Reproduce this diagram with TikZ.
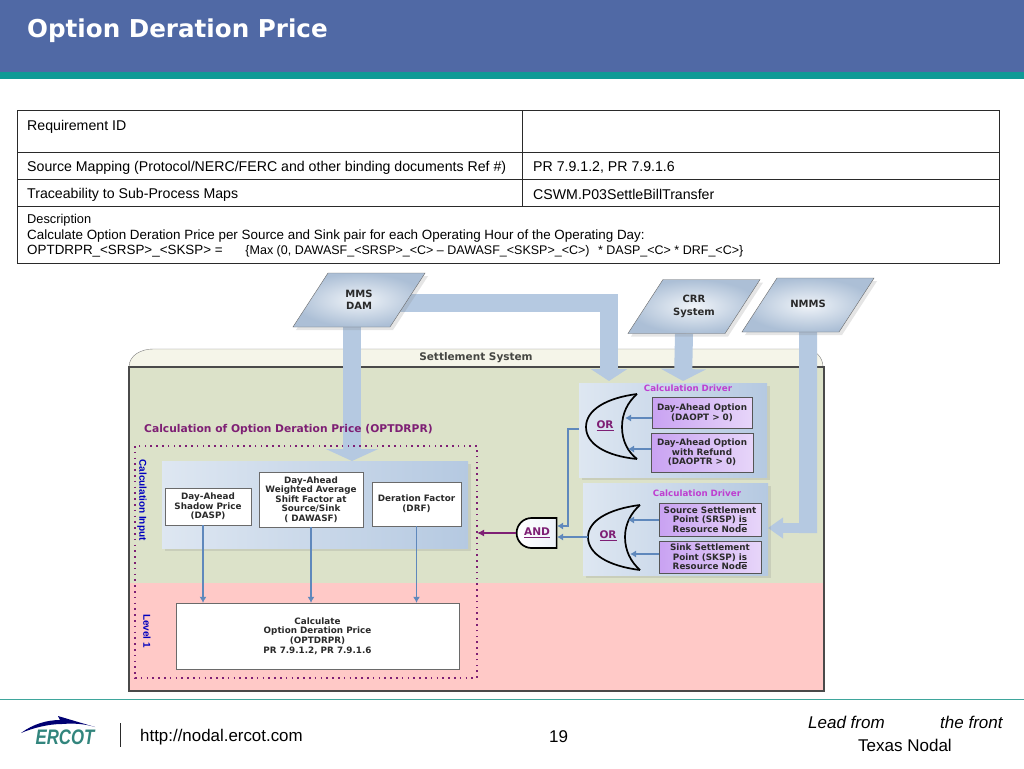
\documentclass[tikz,border=0pt]{standalone}
\usepackage{fontspec}
\setmainfont{Liberation Sans}
\newfontfamily\diafont{DejaVu Sans}
\usetikzlibrary{arrows.meta,positioning,shapes.geometric,shapes.misc,shadows}
\pgfdeclarelayer{back}
\pgfdeclarelayer{pipes}
\pgfsetlayers{back,pipes,main}
\definecolor{head}{HTML}{5069A5}
\definecolor{strip}{HTML}{0F9A96}
\definecolor{rulet}{HTML}{3FA69C}
\definecolor{flow}{HTML}{B5C9E1}
\definecolor{wire}{HTML}{5F88BC}
\definecolor{plum}{HTML}{7E1F74}
\definecolor{magen}{HTML}{BE3FD0}
\definecolor{viol}{HTML}{C9A2F2}
\definecolor{sysgreen}{HTML}{DCE2C9}
\definecolor{syspink}{HTML}{FFC9C7}
\definecolor{tabc}{HTML}{F5F5E9}
\definecolor{ink}{HTML}{2A2A2A}
\tikzset{cell/.style={anchor=west,inner sep=0pt,align=left,font=\fontsize{14.15}{14.6}\selectfont},
src/.style={trapezium,trapezium left angle=57,trapezium right angle=123,trapezium stretches body,draw=ink!70,inner sep=0pt,text width=62pt,text height=27pt,text depth=27pt,inner color=flow!20,outer color=flow!95!black,drop shadow={shadow xshift=3pt,shadow yshift=-3pt,opacity=.2}},
srclbl/.style={inner sep=0pt,align=center,text=ink,font=\diafont\bfseries\fontsize{10}{12.5}\selectfont},
panel/.style={anchor=north west,inner sep=0pt,left color=flow!45,right color=flow,drop shadow={shadow xshift=3pt,shadow yshift=-3pt,opacity=.2}},
inbox/.style={draw=ink!70,fill=white,inner sep=0pt,align=center,text=ink,font=\diafont\bfseries\fontsize{8.8}{9.6}\selectfont},
drvbox/.style={draw=ink!80,thick,inner sep=0pt,align=center,text=ink,left color=viol,right color=viol!45,font=\diafont\bfseries\fontsize{8.8}{9.6}\selectfont},
bigarr/.style={draw=flow,line width=18pt},
arr/.style={draw=wire,line width=1.1pt,-{Latex[length=6pt,width=7pt]}},
gate/.style={draw=black,line width=1.7pt},
gatelbl/.style={inner sep=0pt,text=plum,font=\diafont\bfseries\fontsize{10.5}{11}\selectfont},
drvlbl/.style={inner sep=0pt,text=magen,font=\diafont\bfseries\fontsize{8.7}{9}\selectfont},
vlbl/.style={rotate=-90,inner sep=0pt,text=blue!75!black,font=\bfseries\fontsize{10}{10}\selectfont}}
\begin{document}
\begin{tikzpicture}[x=1pt,y=-1pt]
\useasboundingbox (0,0) rectangle (1024,768);
\fill[head] (0,0) rectangle (1024,72);
\fill[strip] (0,72) rectangle (1024,79);
\node[anchor=west,inner sep=0pt,text=white,font=\diafont\bfseries\fontsize{24.6}{26}\selectfont] (title) at (27,31) {Option Deration Price};
% table
\draw[ink,line width=1pt] (17,110) rectangle (999,263);
\draw[ink,line width=1pt] (17,152)--(999,152) (17,179)--(999,179) (17,206)--(999,206) (522,110)--(522,206);
\node[cell] (t1) at (27,127) {Requirement ID};
\node[cell] (t2) at (27,168) {Source Mapping (Protocol/NERC/FERC and other binding documents Ref \#)};
\node[cell] (t3) at (533,167.5) {PR 7.9.1.2, PR 7.9.1.6};
\node[cell] (t4) at (27,195) {Traceability to Sub-Process Maps};
\node[cell] (t5) at (533,194.5) {CSWM.P03SettleBillTransfer};
\node[cell,font=\fontsize{12.8}{15.4}\selectfont] (t6) at (27,236) {Description\\\fontsize{13.4}{15.4}\selectfont Calculate Option Deration Price per Source and Sink pair for each Operating Hour of the Operating Day:\\\fontsize{13.4}{15.4}\selectfont OPTDRPR\_<SRSP>\_<SKSP> =\hspace{1.7em}\fontsize{12.5}{15.4}\selectfont\{Max (0, DAWASF\_<SRSP>\_<C> -- DAWASF\_<SKSP>\_<C>)\hspace{.4em} * DASP\_<C> * DRF\_<C>\}};
% settlement system
\begin{pgfonlayer}{back}
\fill[white] (0,0) rectangle (1024,768);
\draw[ink!60,fill=tabc] (129,367) to[out=90,in=180] (153,349)--(805,349) to[out=0,in=90] (823,367)--cycle;
\fill[sysgreen] (129,367) rectangle (824,583);
\fill[syspink] (129,583) rectangle (824,691);
\draw[ink!85,line width=1.5pt] (129,367)--(824,367)--(824,691)--(129,691)--cycle;
\end{pgfonlayer}
\node[inner sep=0pt,text=ink!85!sysgreen,font=\diafont\bfseries\fontsize{10.5}{11}\selectfont] (sys) at (476,358) {Settlement System};
\node[src,label={[srclbl]center:MMS\\DAM}] (mms) at (359,300) {};
\node[src,label={[srclbl]center:CRR\\System}] (crr) at (694,306.5) {};
\node[src,label={[srclbl,yshift=1pt]center:NMMS}] (nmms) at (808,305) {};
\node[panel,minimum width=306pt,minimum height=87pt] (inp) at (162,461) {};
\node[panel,minimum width=188pt,minimum height=94pt] (drv1) at (579,383) {};
\node[panel,minimum width=185pt,minimum height=92pt] (drv2) at (583,483) {};
\coordinate (m0) at (380,302.5);
\coordinate (m1) at (609,381);
\coordinate (c1) at (683,381);
\coordinate (n0) at (817,528);
\coordinate (n1) at (768,528);
\coordinate (n2) at (808,533);
\begin{pgfonlayer}{pipes}
\draw[bigarr,-{Triangle[length=12pt,width=52pt]}] ([xshift=-7pt]mms.south)--([xshift=-7pt]mms.south |- inp.north);
\draw[bigarr,-{Triangle[length=12pt,width=36pt]}] (m0) -| (m1);
\draw[bigarr,-{Triangle[length=12pt,width=45pt]}] ([xshift=-10pt]crr.south)--(c1);
\draw[bigarr] (nmms.south)--(n2);
\draw[draw=flow,line width=10pt,-{Triangle[length=15pt,width=20pt]}] (n0)--(n1);
\end{pgfonlayer}
\draw[plum,line width=1.6pt,dash pattern=on 1.6pt off 4.2pt] (135,446) rectangle (477,678);
\node[anchor=west,inner sep=0pt,text=plum,font=\diafont\bfseries\fontsize{10.7}{11}\selectfont] (ttl) at (144,430) {Calculation of Option Deration Price (OPTDRPR)};
\node[vlbl] (vi) at (142,500) {Calculation Input};
\node[vlbl] (vl) at (147,631) {Level 1};
\node[inbox,minimum width=86pt,minimum height=37pt] (dasp) at (208,506.5) {Day-Ahead\\Shadow Price\\(DASP)};
\node[inbox,minimum width=104pt,minimum height=55pt] (dawasf) at (311,499.5) {Day-Ahead\\Weighted Average\\Shift Factor at\\Source/Sink\\( DAWASF)};
\node[inbox,minimum width=89pt,minimum height=44pt] (drf) at (416.5,504) {Deration Factor\\(DRF)};
\node[inbox,minimum width=283pt,minimum height=66pt] (calc) at (317.5,636) {Calculate\\Option Deration Price\\(OPTDRPR)\\PR 7.9.1.2, PR 7.9.1.6};
\draw[arr] ([xshift=-5pt]dasp.south)--([xshift=-5pt]dasp.south |- calc.north);
\draw[arr] (dawasf.south)--(dawasf.south |- calc.north);
\draw[arr] (drf.south)--(drf.south |- calc.north);
% drivers
\node[drvlbl] (dl1) at (688,388) {Calculation Driver};
\node[drvlbl] (dl2) at (697,493) {Calculation Driver};
\node[drvbox,minimum width=100pt,minimum height=31pt] (daopt) at (702,412.5) {Day-Ahead Option\\(DAOPT > 0)};
\node[drvbox,minimum width=102pt,minimum height=39pt] (daoptr) at (702,452.5) {Day-Ahead Option\\with Refund\\(DAOPTR > 0)};
\node[drvbox,minimum width=102pt,minimum height=33pt] (srsp) at (710,519.5) {Source Settlement\\Point (SRSP) \underline{is}\\Resource Node};
\node[drvbox,minimum width=102pt,minimum height=32pt] (sksp) at (710,557) {Sink Settlement\\Point (SKSP) \underline{is}\\Resource Node};
\draw[gate] (637,394) .. controls (606,398) and (586,410) .. (586,427) .. controls (586,444) and (606,456) .. (637,459);
\draw[gate] (637,394) .. controls (628,402) and (622,413) .. (622,427) .. controls (622,441) and (628,452) .. (637,459);
\draw[gate] (640,505) .. controls (608,509) and (588,521) .. (588,537) .. controls (588,554) and (608,566) .. (640,570);
\draw[gate] (640,505) .. controls (631,513) and (625,524) .. (625,537) .. controls (625,551) and (631,562) .. (640,570);
\node[gatelbl] (or1) at (605,426) {\underline{OR}};
\node[gatelbl] (or2) at (608,536) {\underline{OR}};
\coordinate (a1) at (625,418);
\coordinate (a2) at (628,449);
\coordinate (a3) at (628,520);
\coordinate (a4) at (630,554);
\draw[arr] (a1 -| daopt.west)--(a1);
\draw[arr] (a2 -| daoptr.west)--(a2);
\draw[arr] (a3 -| srsp.west)--(a3);
\draw[arr] (a4 -| sksp.west)--(a4);
\node[rounded rectangle,rounded rectangle right arc=none,draw=black,line width=1.7pt,left color=white,right color=flow!25,inner sep=0pt,minimum width=40pt,minimum height=30pt,text=plum,font=\diafont\bfseries\fontsize{10.6}{11}\selectfont] (andg) at (537,533) {\underline{AND}};
\draw[arr] (drv1.west |- or1) ++(0,3) -- (568,429) -- (568,526) -- (557,526);
\draw[arr] (588,537) -- (557,537);
\draw[plum,line width=1.5pt,-{Latex[length=7pt,width=7pt]}] (andg.west)--(477,533);
% footer
\draw[rulet,line width=1.2pt] (0,699.5)--(1024,699.5);
\fill[blue!45!black] (21,733) .. controls (33,724) and (47,720) .. (60,720) -- (58,716) -- (95,727) .. controls (85,724) and (75,723) .. (62,724) .. controls (48,724) and (33,728) .. cycle;
\node[inner sep=0pt,text=rulet!80!black,xscale=.8,font=\bfseries\itshape\fontsize{21}{21}\selectfont] (logo) at (65,737) {ERCOT};
\draw[ink,line width=.8pt] (120,723)--(120,747);
\node[anchor=west,inner sep=0pt,font=\fontsize{16.9}{17}\selectfont] (url) at (140,737) {http://nodal.ercot.com};
\node[inner sep=0pt,font=\fontsize{17}{17}\selectfont] (pg) at (558.5,737) {19};
\node[anchor=west,inner sep=0pt,font=\itshape\fontsize{17}{17}\selectfont] (lead) at (808,722) {Lead from};
\node[anchor=west,inner sep=0pt,font=\itshape\fontsize{17}{17}\selectfont] (front) at (940,722) {the front};
\node[anchor=west,inner sep=0pt,font=\fontsize{17}{17}\selectfont] (txn) at (858,745) {Texas Nodal};
\end{tikzpicture}
\end{document}
